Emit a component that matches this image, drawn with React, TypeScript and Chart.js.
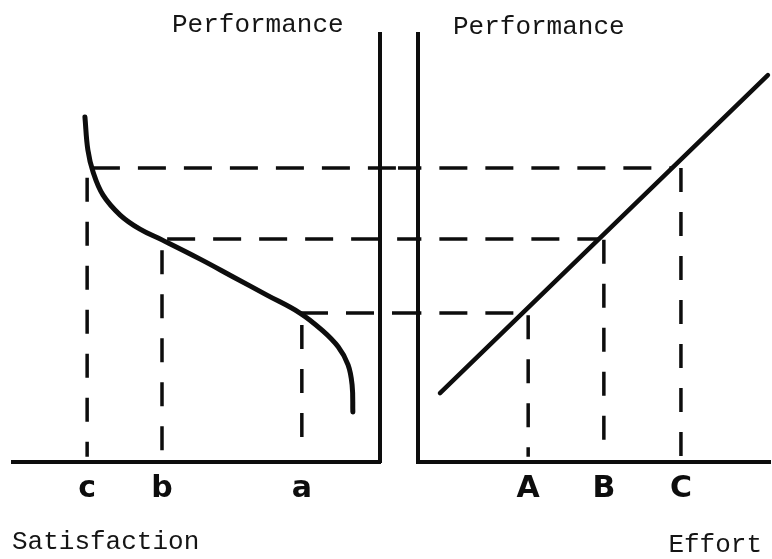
import React, { useEffect, useRef } from 'react';
import { Chart, registerables } from 'chart.js';

Chart.register(...registerables);

// ---- data (abstract units 0..100) ----
const SAT_CURVE_X = [19.6, 20.4, 21.8, 24.5, 29.2, 34.6, 40.6, 51.0, 59.9, 69.2, 78.2, 84.2, 88.6, 91.3, 92.4, 92.6];
const SAT_CURVE_Y = [80.6, 72.9, 67.8, 62.4, 57.7, 54.4, 51.9, 47.4, 43.3, 39.0, 34.8, 30.8, 26.9, 22.7, 18.0, 11.7];

const EFFORT_LINE_X = [6.25, 99.4];
const EFFORT_LINE_Y = [16.1, 90.4];

// performance levels for a/A, b/B, c/C
const PERF_LEVELS = [34.8, 52.1, 68.7];
const SAT_AT_LEVEL = [78.2, 42.0, 21.5];
const EFFORT_AT_LEVEL = [29.8, 51.4, 72.2];

const SAT_TICKS = [20.2, 40.6, 78.7];
const SAT_LABELS = ['c', 'b', 'a'];
const SAT_DROP_TOPS = [66.4, 49.5, 32.0];

const EFFORT_TICKS = [31.3, 52.8, 74.7];
const EFFORT_LABELS = ['A', 'B', 'C'];
const EFFORT_DROP_TOPS = [34.3, 51.9, 68.7];

const TITLE_PERF = 'Performance';
const TITLE_SAT = 'Satisfaction';
const TITLE_EFFORT = 'Effort';

// ---- layout ----
const W = 772;
const H = 559;
const SPLIT = 398;
const INK = '#0d0d0d';

type TextItem = { text: string; anchor: 'left' | 'right'; dx: number; y: number; align: CanvasTextAlign };

function textPlugin(items: TextItem[]) {
  return {
    id: 'freeText',
    afterDraw(chart: any) {
      const { ctx, chartArea } = chart;
      ctx.save();
      ctx.fillStyle = '#151515';
      ctx.font = '26px "Liberation Mono", "DejaVu Sans Mono", monospace';
      ctx.textBaseline = 'middle';
      items.forEach((it) => {
        ctx.textAlign = it.align;
        const x = it.anchor === 'left' ? chartArea.left + it.dx : chartArea.right + it.dx;
        ctx.fillText(it.text, x, it.y);
      });
      ctx.restore();
    },
  };
}

function xAxis(ticks: number[], labels: string[]) {
  return {
    type: 'linear',
    min: 0,
    max: 100,
    position: 'bottom',
    grid: { display: false, drawTicks: false },
    border: { display: true, color: INK, width: 4 },
    afterBuildTicks: (s: any) => {
      s.ticks = ticks.map((v) => ({ value: v }));
    },
    afterFit: (s: any) => {
      s.height = 97;
    },
    ticks: {
      autoSkip: false,
      maxRotation: 0,
      minRotation: 0,
      padding: 9,
      color: INK,
      font: { family: '"DejaVu Sans", sans-serif', size: 30, weight: 'bold' },
      callback: (_v: any, i: number) => labels[i],
    },
  };
}

function yAxis(position: 'left' | 'right', width: number) {
  return {
    type: 'linear',
    min: 0,
    max: 100,
    position,
    grid: { display: false, drawTicks: false },
    border: { display: true, color: INK, width: 4 },
    ticks: { display: false },
    afterFit: (s: any) => {
      s.width = width;
    },
  };
}

const solid = (data: { x: number; y: number }[], width: number, tension: number) => ({
  data,
  showLine: true,
  borderColor: INK,
  borderWidth: width,
  pointRadius: 0,
  borderCapStyle: 'round',
  borderJoinStyle: 'round',
  tension,
  clip: false,
});

const dashed = (data: { x: number; y: number }[], dash: number[]) => ({
  data,
  showLine: true,
  borderColor: INK,
  borderWidth: 3.5,
  borderDash: dash,
  pointRadius: 0,
  tension: 0,
  clip: false,
});

export default function App() {
  const leftRef = useRef<HTMLCanvasElement>(null);
  const rightRef = useRef<HTMLCanvasElement>(null);

  useEffect(() => {
    const leftDatasets: any[] = [
      solid(SAT_CURVE_X.map((x, i) => ({ x, y: SAT_CURVE_Y[i] })), 5, 0.4),
      ...PERF_LEVELS.map((lv, i) => dashed([{ x: SAT_AT_LEVEL[i], y: lv }, { x: 106, y: lv }], [28, 18])),
      ...SAT_TICKS.map((t, i) => dashed([{ x: t, y: SAT_DROP_TOPS[i] }, { x: t, y: 1.2 }], [24, 20])),
    ];
    const rightDatasets: any[] = [
      solid(EFFORT_LINE_X.map((x, i) => ({ x, y: EFFORT_LINE_Y[i] })), 4.5, 0),
      ...PERF_LEVELS.map((lv, i) => dashed([{ x: -7, y: lv }, { x: EFFORT_AT_LEVEL[i], y: lv }], [28, 18])),
      ...EFFORT_TICKS.map((t, i) => dashed([{ x: t, y: EFFORT_DROP_TOPS[i] }, { x: t, y: 1.2 }], [24, 20])),
    ];

    const common = {
      responsive: false,
      animation: false,
      devicePixelRatio: 1,
      events: [],
    };

    const left = new Chart(leftRef.current!, {
      type: 'scatter',
      data: { datasets: leftDatasets },
      options: {
        ...common,
        layout: { padding: { left: 13, top: 34, right: 0, bottom: 0 } },
        plugins: { legend: { display: false }, tooltip: { enabled: false } },
        scales: { x: xAxis(SAT_TICKS, SAT_LABELS), y: yAxis('right', 18) },
      } as any,
      plugins: [
        textPlugin([
          { text: TITLE_PERF, anchor: 'left', dx: 159, y: 25, align: 'left' },
          { text: TITLE_SAT, anchor: 'left', dx: -1, y: 542, align: 'left' },
        ]),
      ],
    });

    const right = new Chart(rightRef.current!, {
      type: 'scatter',
      data: { datasets: rightDatasets },
      options: {
        ...common,
        layout: { padding: { left: 0, top: 34, right: 2, bottom: 0 } },
        plugins: { legend: { display: false }, tooltip: { enabled: false } },
        scales: { x: xAxis(EFFORT_TICKS, EFFORT_LABELS), y: yAxis('left', 20) },
      } as any,
      plugins: [
        textPlugin([
          { text: TITLE_PERF, anchor: 'left', dx: 35, y: 27, align: 'left' },
          { text: TITLE_EFFORT, anchor: 'right', dx: -8, y: 545, align: 'right' },
        ]),
      ],
    });

    return () => {
      left.destroy();
      right.destroy();
    };
  }, []);

  return (
    <div style={{ position: 'fixed', left: 0, top: 0, width: W, height: H, background: '#fff', overflow: 'hidden' }}>
      <canvas
        ref={leftRef}
        width={SPLIT}
        height={H}
        style={{ position: 'absolute', left: 0, top: 0, width: SPLIT, height: H }}
      />
      <canvas
        ref={rightRef}
        width={W - SPLIT}
        height={H}
        style={{ position: 'absolute', left: SPLIT, top: 0, width: W - SPLIT, height: H }}
      />
    </div>
  );
}
